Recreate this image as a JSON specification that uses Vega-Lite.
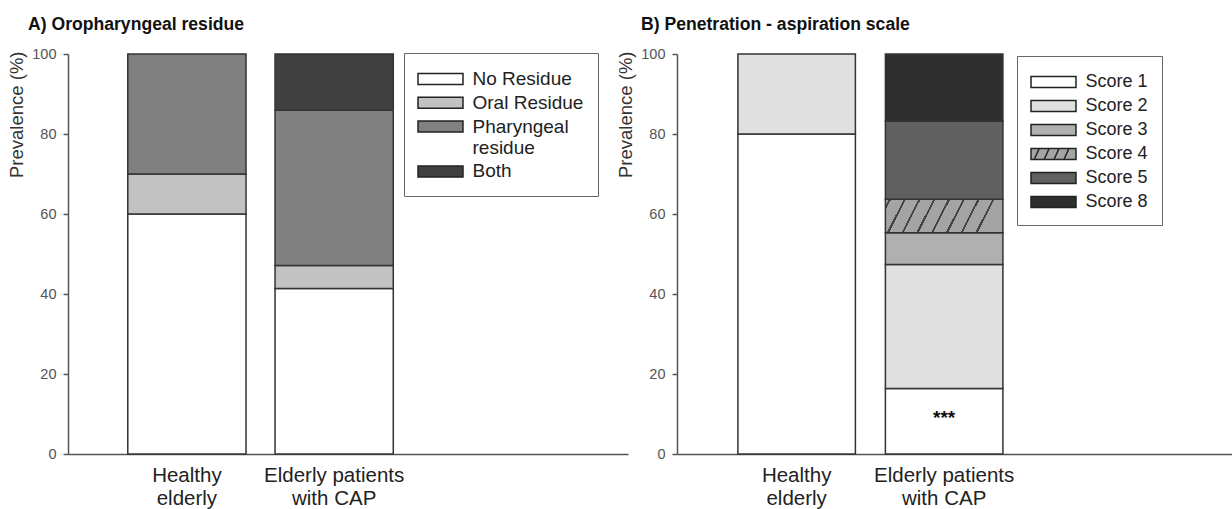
{
  "$schema": "https://vega.github.io/schema/vega-lite/v6.json",
  "background": "white",
  "padding": {"left": 7, "top": 16, "right": 0, "bottom": 0},
  "bounds": "flush",
  "spacing": 49,
  "resolve": {"scale": {"fill": "independent", "x": "independent", "y": "independent"}, "legend": {"fill": "independent"}},
  "config": {
    "font": "Liberation Sans",
    "view": {"stroke": null},
    "axis": {"grid": false, "domainColor": "#555", "domainWidth": 1.5, "tickColor": "#555", "tickWidth": 1.5},
    "legend": {"symbolType": "M-2.045,-0.5H2.045V0.5H-2.045Z", "symbolSize": 484, "symbolStrokeColor": "#222", "symbolStrokeWidth": 1.5, "symbolOffset": 10.5, "strokeColor": "#666", "fillColor": "white", "padding": 14, "labelOffset": 20, "labelColor": "#222", "labelFont": "Liberation Sans", "title": null}
  },
  "datasets": {
    "residue": [
      {"group": "Healthy elderly", "type": "No Residue", "pct": 60},
      {"group": "Healthy elderly", "type": "Oral Residue", "pct": 10},
      {"group": "Healthy elderly", "type": "Pharyngeal residue", "pct": 30},
      {"group": "Elderly patients with CAP", "type": "No Residue", "pct": 41.4},
      {"group": "Elderly patients with CAP", "type": "Oral Residue", "pct": 5.7},
      {"group": "Elderly patients with CAP", "type": "Pharyngeal residue", "pct": 38.9},
      {"group": "Elderly patients with CAP", "type": "Both", "pct": 14.0}
    ],
    "pas": [
      {"group": "Healthy elderly", "score": "Score 1", "pct": 80},
      {"group": "Healthy elderly", "score": "Score 2", "pct": 20},
      {"group": "Elderly patients with CAP", "score": "Score 1", "pct": 16.4},
      {"group": "Elderly patients with CAP", "score": "Score 2", "pct": 31.0},
      {"group": "Elderly patients with CAP", "score": "Score 3", "pct": 7.9},
      {"group": "Elderly patients with CAP", "score": "Score 4", "pct": 8.4},
      {"group": "Elderly patients with CAP", "score": "Score 5", "pct": 19.5},
      {"group": "Elderly patients with CAP", "score": "Score 8", "pct": 16.8}
    ],
    "stars": [
      {"group": "Elderly patients with CAP", "pos": 7.6, "label": "***"}
    ]
  },
  "hconcat": [
    {
      "width": 560,
      "height": 400,
      "title": {"text": "A) Oropharyngeal residue", "anchor": "start", "frame": "group", "dx": -40, "offset": 12, "fontSize": 17.6, "fontWeight": "bold", "color": "#111", "font": "Liberation Sans"},
      "data": {"name": "residue"},
      "transform": [
        {"calculate": "indexof(['No Residue','Oral Residue','Pharyngeal residue','Both'], datum.type)", "as": "ord"}
      ],
      "mark": {"type": "bar", "stroke": "#333", "strokeWidth": 1.5},
      "encoding": {
        "x": {
          "field": "group", "type": "nominal",
          "sort": ["Healthy elderly", "Elderly patients with CAP"],
          "scale": {"paddingInner": 0.197, "paddingOuter": 1.003, "align": 0.203},
          "axis": {"title": null, "ticks": false, "labelAngle": 0, "labelFontSize": 20.5, "labelColor": "#222", "labelPadding": 11, "labelLineHeight": 23,
            "labelExpr": "datum.value == 'Healthy elderly' ? ['Healthy', 'elderly'] : ['Elderly patients', 'with CAP']"}
        },
        "y": {
          "field": "pct", "type": "quantitative", "stack": "zero",
          "scale": {"domain": [0, 100], "nice": false},
          "axis": {"title": "Prevalence (%)", "values": [0, 20, 40, 60, 80, 100], "tickSize": 5, "labelPadding": 7, "labelFontSize": 14.5, "labelColor": "#555", "titleFontSize": 18.5, "titleFontWeight": "normal", "titleColor": "#333", "titleAnchor": "end", "titleY": -3, "titlePadding": 5}
        },
        "fill": {
          "field": "type", "type": "nominal",
          "scale": {"domain": ["No Residue", "Oral Residue", "Pharyngeal residue", "Both"], "range": ["#ffffff", "#c2c2c2", "#808080", "#404040"]},
          "legend": {"orient": "none", "legendX": 336, "legendY": -1, "labelFontSize": 19, "rowPadding": 1.8,
            "labelExpr": "datum.label == 'Pharyngeal residue' ? ['Pharyngeal', 'residue'] : datum.label == 'Oral Residue' ? 'Oral Residue\u00a0' : datum.label"}
        },
        "order": {"field": "ord", "type": "quantitative"}
      }
    },
    {
      "width": 555,
      "height": 400,
      "title": {"text": "B) Penetration - aspiration scale", "anchor": "start", "frame": "group", "dx": -36, "offset": 12, "fontSize": 17.6, "fontWeight": "bold", "color": "#111", "font": "Liberation Sans"},
      "encoding": {
        "x": {
          "field": "group", "type": "nominal",
          "sort": ["Healthy elderly", "Elderly patients with CAP"],
          "scale": {"domain": ["Healthy elderly", "Elderly patients with CAP"], "paddingInner": 0.2034, "paddingOuter": 0.983, "align": 0.21},
          "axis": {"title": null, "ticks": false, "labelAngle": 0, "labelFontSize": 20.5, "labelColor": "#222", "labelPadding": 11, "labelLineHeight": 23,
            "labelExpr": "datum.value == 'Healthy elderly' ? ['Healthy', 'elderly'] : ['Elderly patients', 'with CAP']"}
        }
      },
      "layer": [
        {
          "data": {"name": "pas"},
          "transform": [
            {"calculate": "indexof(['Score 1','Score 2','Score 3','Score 4','Score 5','Score 8'], datum.score)", "as": "ord"}
          ],
          "mark": {"type": "bar", "stroke": "#333", "strokeWidth": 1.5},
          "encoding": {
            "y": {
              "field": "pct", "type": "quantitative", "stack": "zero",
              "scale": {"domain": [0, 100], "nice": false},
              "axis": {"title": "Prevalence (%)", "values": [0, 20, 40, 60, 80, 100], "tickSize": 5, "labelPadding": 7, "labelFontSize": 14.5, "labelColor": "#555", "titleFontSize": 18.5, "titleFontWeight": "normal", "titleColor": "#333", "titleAnchor": "end", "titleY": -3, "titlePadding": 5}
            },
            "fill": {
              "condition": {"test": "datum.score === 'Score 4'", "value": {"gradient": "linear", "x1": 0, "y1": 0, "x2": 1, "y2": 0.145, "stops": [
                    {"offset": 0, "color": "#a4a4a4"},
                    {"offset": 0.03, "color": "#a4a4a4"}, {"offset": 0.03, "color": "#444444"}, {"offset": 0.048, "color": "#444444"}, {"offset": 0.048, "color": "#a4a4a4"},
                    {"offset": 0.153, "color": "#a4a4a4"}, {"offset": 0.153, "color": "#444444"}, {"offset": 0.171, "color": "#444444"}, {"offset": 0.171, "color": "#a4a4a4"},
                    {"offset": 0.276, "color": "#a4a4a4"}, {"offset": 0.276, "color": "#444444"}, {"offset": 0.294, "color": "#444444"}, {"offset": 0.294, "color": "#a4a4a4"},
                    {"offset": 0.399, "color": "#a4a4a4"}, {"offset": 0.399, "color": "#444444"}, {"offset": 0.417, "color": "#444444"}, {"offset": 0.417, "color": "#a4a4a4"},
                    {"offset": 0.522, "color": "#a4a4a4"}, {"offset": 0.522, "color": "#444444"}, {"offset": 0.54, "color": "#444444"}, {"offset": 0.54, "color": "#a4a4a4"},
                    {"offset": 0.645, "color": "#a4a4a4"}, {"offset": 0.645, "color": "#444444"}, {"offset": 0.663, "color": "#444444"}, {"offset": 0.663, "color": "#a4a4a4"},
                    {"offset": 0.768, "color": "#a4a4a4"}, {"offset": 0.768, "color": "#444444"}, {"offset": 0.786, "color": "#444444"}, {"offset": 0.786, "color": "#a4a4a4"},
                    {"offset": 0.891, "color": "#a4a4a4"}, {"offset": 0.891, "color": "#444444"}, {"offset": 0.909, "color": "#444444"}, {"offset": 0.909, "color": "#a4a4a4"},
                    {"offset": 1, "color": "#a4a4a4"}
                  ]}},
              "field": "score", "type": "nominal",
              "scale": {"domain": ["Score 1", "Score 2", "Score 3", "Score 4", "Score 5", "Score 8"],
                "range": ["#ffffff", "#e0e0e0", "#b0b0b0", "#a4a4a4", "#606060", "#2e2e2e"]},
              "legend": {"orient": "none", "legendX": 340, "legendY": 2, "labelFontSize": 18, "rowPadding": 3,
                "labelExpr": "datum.label + '\u00a0\u00a0'",
                "encode": {"symbols": {"update": {
                  "stroke": {"value": "#222"},
                  "strokeWidth": {"value": 1.5},
                  "shape": {"signal": "datum.value === 'Score 4' ? 'M-2.045,-0.5H2.045V0.5H-2.045Z M-1.75,0.5L-1.3,-0.5 M-0.85,0.5L-0.4,-0.5 M0.05,0.5L0.5,-0.5 M0.95,0.5L1.4,-0.5' : 'M-2.045,-0.5H2.045V0.5H-2.045Z'"}
                }}}}
            },
            "order": {"field": "ord", "type": "quantitative"}
          }
        },
        {
          "data": {"name": "stars"},
          "mark": {"type": "text", "fontSize": 19, "fontWeight": "bold", "baseline": "alphabetic", "align": "center", "color": "#111"},
          "encoding": {
            "y": {"field": "pos", "type": "quantitative"},
            "text": {"field": "label"}
          }
        }
      ]
    }
  ]
}
